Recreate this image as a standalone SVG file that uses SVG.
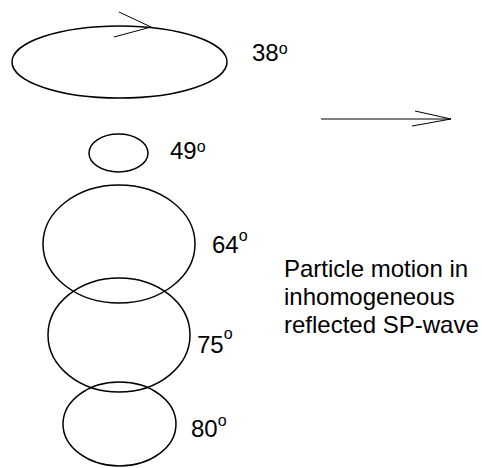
<svg xmlns="http://www.w3.org/2000/svg" width="482" height="468" viewBox="0 0 482 468">
<style>
.e{fill:none;stroke:#000;stroke-width:1.5}
.a{fill:none;stroke:#000;stroke-width:1}
text{font-family:"Liberation Sans",Arial,sans-serif;font-size:24px;fill:#000}
.s{font-size:16px}
</style>
<rect width="482" height="468" fill="#fff"/>
<g id="ellipse38"><ellipse class="e" cx="119.5" cy="62" rx="107.5" ry="36"/><text x="252" y="61">38<tspan class="s" dy="-7">o</tspan></text></g>
<g id="ellipse49"><ellipse class="e" cx="118.5" cy="153" rx="29.5" ry="19"/><text x="170" y="159">49<tspan class="s" dy="-7">o</tspan></text></g>
<g id="ellipse64"><ellipse class="e" cx="119" cy="244" rx="76" ry="59"/><text x="212" y="253">64<tspan class="s" dy="-12">o</tspan></text></g>
<g id="ellipse75"><ellipse class="e" cx="119" cy="335" rx="71" ry="57"/><text x="197" y="353">75<tspan class="s" dy="-14">o</tspan></text></g>
<g id="ellipse80"><ellipse class="e" cx="119.5" cy="424" rx="56.5" ry="42"/><text x="191" y="437">80<tspan class="s" dy="-11.5">o</tspan></text></g>
<g id="caption"><text x="284" y="277">Particle motion in</text><text x="284" y="305">inhomogeneous</text><text x="284" y="333">reflected SP-wave</text></g>
<g id="connectors">
<path class="a" d="M119 12 L151 27 L114 37"/>
<path class="a" d="M321 119 H451 M415 111 L451 119 L412 126"/>
</g>
</svg>
